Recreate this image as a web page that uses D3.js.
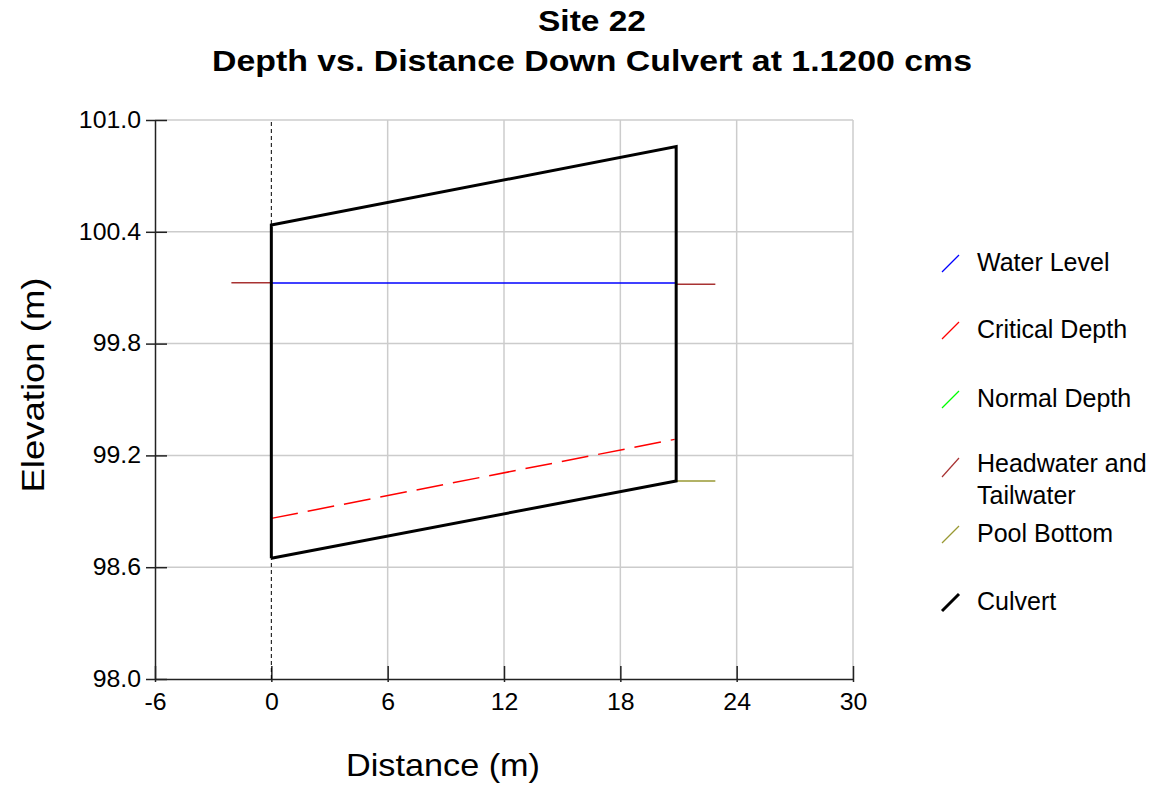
<!DOCTYPE html>
<html>
<head>
<meta charset="utf-8">
<script src="https://cdn.jsdelivr.net/npm/d3@7"></script>
<style>
  body { margin: 0; background: #fff; }
  svg { font-family: "Liberation Sans", Arial, sans-serif; }
</style>
</head>
<body>
<svg id="chart" width="1165" height="788"></svg>
<script>
// chart data
const xTicks = [-6, 0, 6, 12, 18, 24, 30];
const yTicks = [98.0, 98.6, 99.2, 99.8, 100.4, 101.0];

const culvertX = [0, 0, 20.88, 20.88, 0];
const culvertY = [98.648, 100.437, 100.857, 99.063, 98.648];

const waterX = [0, 20.88];
const waterY = [100.125, 100.125];

const criticalX = [0, 20.8];
const criticalY = [98.862, 99.286];

const headwaterX = [-2.06, 0];
const headwaterY = [100.126, 100.126];
const tailwaterX = [20.88, 22.9];
const tailwaterY = [100.119, 100.119];

const poolX = [20.88, 22.9];
const poolY = [99.063, 99.063];

const inletX = [0, 0];
const inletY = [98.0, 101.0];

const legendNames = ["Water Level", "Critical Depth", "Normal Depth", "Headwater and\nTailwater", "Pool Bottom", "Culvert"];
const legendColors = ["#0000ff", "#ff0000", "#00ff00", "#a83232", "#999933", "#000000"];

const svg = d3.select("#chart");
const plotL = 155, plotR = 853, plotT = 120, plotB = 679;

const x = d3.scaleLinear().domain([-6, 30]).range([plotL, plotR]);
const y = d3.scaleLinear().domain([98, 101]).range([plotB, plotT]);

const pts = (xs, ys) => xs.map((v, i) => [x(v), y(ys[i])]);
const line = d3.line();

// grid
svg.append("g").selectAll("line")
  .data(xTicks.filter(t => t > 0))
  .join("line")
  .attr("x1", d => x(d)).attr("x2", d => x(d))
  .attr("y1", plotT).attr("y2", plotB)
  .attr("stroke", "#cccccc").attr("stroke-width", 1.5);

svg.append("g").selectAll("line")
  .data(yTicks.filter(t => t > 98))
  .join("line")
  .attr("x1", plotL).attr("x2", plotR)
  .attr("y1", d => y(d)).attr("y2", d => y(d))
  .attr("stroke", "#cccccc").attr("stroke-width", 1.5);

// axes
const xAxis = svg.append("g")
  .attr("transform", `translate(0,${plotB})`)
  .call(d3.axisBottom(x).tickValues(xTicks).tickFormat(d => String(d)).tickSizeOuter(0));
xAxis.selectAll(".tick line").attr("y1", -13).attr("y2", 3);

const yAxis = svg.append("g")
  .attr("transform", `translate(${plotL},0)`)
  .call(d3.axisLeft(y).tickValues(yTicks).tickFormat(d => d.toFixed(1)).tickSizeOuter(0));
yAxis.selectAll(".tick line").attr("x1", 12).attr("x2", -9);

[xAxis, yAxis].forEach(a => {
  a.select(".domain").attr("stroke", "#222").attr("stroke-width", 1.5);
  a.selectAll(".tick line").attr("stroke", "#222").attr("stroke-width", 1.5);
  a.selectAll(".tick text").attr("font-size", 23).attr("fill", "#000")
    .attr("font-family", "Liberation Sans, Arial, sans-serif");
});
xAxis.selectAll(".tick text").attr("y", 15).attr("dy", "0.71em");
yAxis.selectAll(".tick text").attr("x", -14);

// inlet reference line
svg.append("path").attr("d", line(pts(inletX, inletY)))
  .attr("fill", "none").attr("stroke", "#000").attr("stroke-width", 1)
  .attr("stroke-dasharray", "4,3");

// series
svg.append("path").attr("d", line(pts(headwaterX, headwaterY)))
  .attr("fill", "none").attr("stroke", legendColors[3]).attr("stroke-width", 1.5);
svg.append("path").attr("d", line(pts(tailwaterX, tailwaterY)))
  .attr("fill", "none").attr("stroke", legendColors[3]).attr("stroke-width", 1.5);
svg.append("path").attr("d", line(pts(poolX, poolY)))
  .attr("fill", "none").attr("stroke", legendColors[4]).attr("stroke-width", 1.5);
svg.append("path").attr("d", line(pts(waterX, waterY)))
  .attr("fill", "none").attr("stroke", legendColors[0]).attr("stroke-width", 1.5);
svg.append("path").attr("d", line(pts(criticalX, criticalY)))
  .attr("fill", "none").attr("stroke", legendColors[1]).attr("stroke-width", 1.5)
  .attr("stroke-dasharray", "27,10");
svg.append("path").attr("d", line(pts(culvertX, culvertY)))
  .attr("fill", "none").attr("stroke", "#000").attr("stroke-width", 3)
  .attr("stroke-linejoin", "miter");

// titles
svg.append("text").attr("x", 592).attr("y", 31).attr("text-anchor", "middle")
  .attr("font-size", 30).attr("font-weight", "bold")
  .attr("textLength", 108).attr("lengthAdjust", "spacingAndGlyphs")
  .text("Site 22");
svg.append("text").attr("x", 592).attr("y", 71).attr("text-anchor", "middle")
  .attr("font-size", 30).attr("font-weight", "bold")
  .attr("textLength", 760).attr("lengthAdjust", "spacingAndGlyphs")
  .text("Depth vs. Distance Down Culvert at 1.1200 cms");

svg.append("text").attr("x", 443).attr("y", 776).attr("text-anchor", "middle")
  .attr("font-size", 32).attr("textLength", 194).attr("lengthAdjust", "spacingAndGlyphs")
  .text("Distance (m)");
svg.append("text").attr("transform", "translate(44,385) rotate(-90)").attr("text-anchor", "middle")
  .attr("font-size", 32).attr("textLength", 215).attr("lengthAdjust", "spacingAndGlyphs")
  .text("Elevation (m)");

// legend
const legendBase = [271, 338, 407, 472, 542, 610];
const lg = svg.append("g").selectAll("g")
  .data(legendNames)
  .join("g")
  .attr("transform", (d, i) => `translate(0,${legendBase[i]})`);
lg.append("line")
  .attr("x1", 942).attr("y1", (d, i) => i === 3 ? 5 : 1)
  .attr("x2", 959).attr("y2", (d, i) => i === 3 ? -14 : -16)
  .attr("stroke", (d, i) => legendColors[i])
  .attr("stroke-width", (d, i) => i === 5 ? 3 : 1.2);
lg.append("text").attr("x", 977).attr("font-size", 25)
  .selectAll("tspan")
  .data(d => d.split("\n"))
  .join("tspan")
  .attr("x", 977).attr("dy", (d, i) => i === 0 ? 0 : 32)
  .text(d => d);

// horizontal stretch of the tick labels to match the reference
svg.selectAll(".tick text").each(function () {
  const w = this.getComputedTextLength();
  d3.select(this).attr("textLength", w * 1.08).attr("lengthAdjust", "spacingAndGlyphs");
});
</script>
</body>
</html>
